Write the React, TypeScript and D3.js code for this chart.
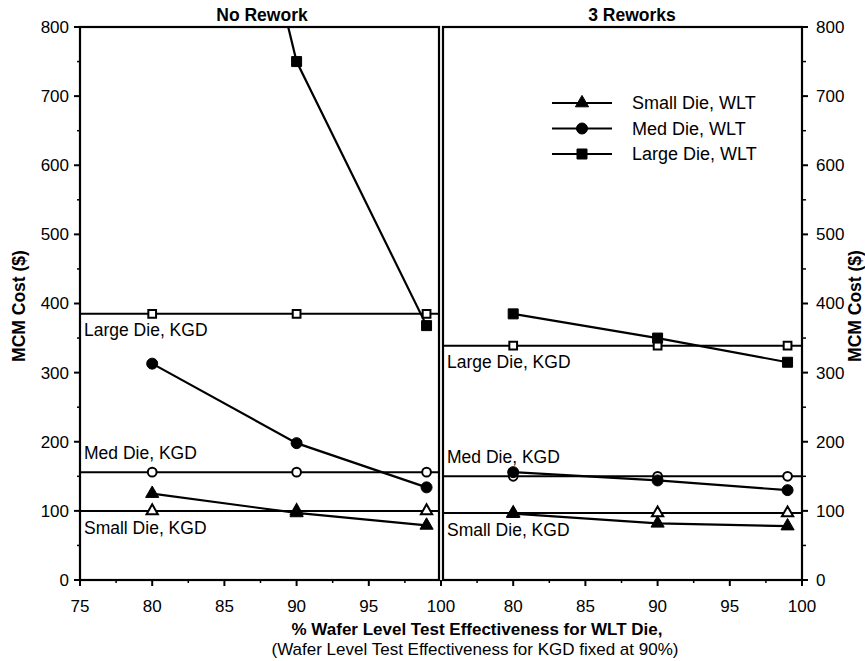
import React from "react";
import * as d3 from "d3";

const W = 865;
const H = 661;

const xWLT = [80, 90, 99];
const xTicksL = [75, 80, 85, 90, 95, 100];
const xTicksR = [80, 85, 90, 95, 100];
const yTicks = [0, 100, 200, 300, 400, 500, 600, 700, 800];

// No Rework panel
const nrSmallWLT = [125, 97, 79];
const nrMedWLT = [313, 198, 134];
const nrLargeWLT = [1610, 750, 368];
const nrSmallKGD = 100;
const nrMedKGD = 156;
const nrLargeKGD = 385;

// 3 Reworks panel
const rwSmallWLT = [96, 82, 78];
const rwMedWLT = [156, 144, 130];
const rwLargeWLT = [385, 350, 315];
const rwSmallKGD = 97;
const rwMedKGD = 150;
const rwLargeKGD = 339;

const legendItems = ["Small Die, WLT", "Med Die, WLT", "Large Die, WLT"];
const symbolTypes = [d3.symbolTriangle, d3.symbolCircle, d3.symbolSquare];

const FONT = "'Liberation Sans', Arial, Helvetica, sans-serif";
const FS = 17.5;
const TFS = 17;

const top = 27;
const bottom = 580;
const y = d3.scaleLinear().domain([0, 800]).range([bottom, top]);
const xL = d3.scaleLinear().domain([75, 100]).range([80, 441]);
const xR = d3.scaleLinear().domain([75, 100]).range([441, 802]);

const filledSize = [75, 95, 100];
const openSize = [55, 60, 60];

function Marker({ x, yv, t, open }: { x: number; yv: number; t: number; open?: boolean }) {
  const p = d3.symbol().type(symbolTypes[t]).size(open ? openSize[t] : filledSize[t])();
  return (
    <path
      d={p || ""}
      transform={`translate(${x},${yv})`}
      fill={open ? "#fff" : "#000"}
      stroke="#000"
      strokeWidth={open ? 2 : 1}
    />
  );
}

function Panel({
  xs,
  left,
  right,
  clipId,
  wlt,
  kgd,
  labelX,
}: {
  xs: d3.ScaleLinear<number, number>;
  left: number;
  right: number;
  clipId: string;
  wlt: number[][];
  kgd: number[];
  labelX: number;
}) {
  const line = d3
    .line<number>()
    .x((_, i) => xs(xWLT[i]))
    .y((d) => y(d));
  const labelOffsets = [23, -13, 22];
  const kgdNames = ["Small Die, KGD", "Med Die, KGD", "Large Die, KGD"];
  return (
    <g>
      <clipPath id={clipId}>
        <rect x={left} y={top} width={right - left} height={bottom - top} />
      </clipPath>
      <g clipPath={`url(#${clipId})`}>
        {kgd.map((v, k) => (
          <g key={"k" + k}>
            <line x1={left} x2={right} y1={y(v)} y2={y(v)} stroke="#000" strokeWidth={2} />
            {xWLT.map((xv, i) => (
              <Marker key={i} x={xs(xv)} yv={y(v)} t={k} open />
            ))}
          </g>
        ))}
        {wlt.map((vals, k) => (
          <g key={"w" + k}>
            <path d={line(vals) || ""} fill="none" stroke="#000" strokeWidth={2.2} />
            {vals.map((v, i) => (
              <Marker key={i} x={xs(xWLT[i])} yv={y(v)} t={k} />
            ))}
          </g>
        ))}
      </g>
      {kgd.map((v, k) => (
        <text key={"t" + k} x={labelX} y={y(v) + labelOffsets[k]} fontSize={FS}>
          {kgdNames[k]}
        </text>
      ))}
      <rect
        x={left}
        y={top}
        width={right - left}
        height={bottom - top}
        fill="none"
        stroke="#000"
        strokeWidth={2.2}
      />
    </g>
  );
}

export default function App() {
  const minorY = d3.range(50, 800, 100);
  const minorX = d3.range(77.5, 100, 5);
  return (
    <svg
      width={W}
      height={H}
      style={{ position: "absolute", left: 0, top: 0, background: "#fff" }}
      fontFamily={FONT}
    >
      <rect width={W} height={H} fill="#fff" />
      <Panel
        xs={xL}
        left={80}
        right={439}
        clipId="clipL"
        wlt={[nrSmallWLT, nrMedWLT, nrLargeWLT]}
        kgd={[nrSmallKGD, nrMedKGD, nrLargeKGD]}
        labelX={84}
      />
      <Panel
        xs={xR}
        left={443}
        right={802}
        clipId="clipR"
        wlt={[rwSmallWLT, rwMedWLT, rwLargeWLT]}
        kgd={[rwSmallKGD, rwMedKGD, rwLargeKGD]}
        labelX={447}
      />
      {/* left y axis */}
      {yTicks.map((t) => (
        <g key={"yl" + t}>
          <line x1={74} x2={80} y1={y(t)} y2={y(t)} stroke="#000" strokeWidth={2} />
          <text x={69} y={y(t)} dy="0.35em" textAnchor="end" fontSize={TFS}>
            {t}
          </text>
        </g>
      ))}
      {minorY.map((t) => (
        <line key={"myl" + t} x1={77} x2={80} y1={y(t)} y2={y(t)} stroke="#000" strokeWidth={1.5} />
      ))}
      {/* right y axis */}
      {yTicks.map((t) => (
        <g key={"yr" + t}>
          <line x1={802} x2={808} y1={y(t)} y2={y(t)} stroke="#000" strokeWidth={2} />
          <text x={816} y={y(t)} dy="0.35em" textAnchor="start" fontSize={TFS}>
            {t}
          </text>
        </g>
      ))}
      {minorY.map((t) => (
        <line key={"myr" + t} x1={802} x2={806} y1={y(t)} y2={y(t)} stroke="#000" strokeWidth={1.5} />
      ))}
      {/* x axes */}
      {xTicksL.map((t) => (
        <g key={"xl" + t}>
          <line x1={xL(t)} x2={xL(t)} y1={bottom} y2={bottom + 6} stroke="#000" strokeWidth={2} />
          <text x={xL(t)} y={bottom + 32} textAnchor="middle" fontSize={TFS}>
            {t}
          </text>
        </g>
      ))}
      {minorX.map((t) => (
        <line key={"mxl" + t} x1={xL(t)} x2={xL(t)} y1={bottom} y2={bottom + 3} stroke="#000" strokeWidth={1.5} />
      ))}
      {xTicksR.map((t) => (
        <g key={"xr" + t}>
          <line x1={xR(t)} x2={xR(t)} y1={bottom} y2={bottom + 6} stroke="#000" strokeWidth={2} />
          <text x={xR(t)} y={bottom + 32} textAnchor="middle" fontSize={TFS}>
            {t}
          </text>
        </g>
      ))}
      {minorX.map((t) => (
        <line key={"mxr" + t} x1={xR(t)} x2={xR(t)} y1={bottom} y2={bottom + 3} stroke="#000" strokeWidth={1.5} />
      ))}
      {/* titles */}
      <text x={262} y={21} textAnchor="middle" fontSize={FS} fontWeight="bold">
        No Rework
      </text>
      <text x={632} y={21} textAnchor="middle" fontSize={FS} fontWeight="bold">
        3 Reworks
      </text>
      {/* axis labels */}
      <text
        transform="translate(25,306) rotate(-90)"
        textAnchor="middle"
        fontSize={FS}
        fontWeight="bold"
      >
        MCM Cost ($)
      </text>
      <text
        transform="translate(861,306) rotate(-90)"
        textAnchor="middle"
        fontSize={FS}
        fontWeight="bold"
      >
        MCM Cost ($)
      </text>
      <text x={477} y={635} textAnchor="middle" fontSize={17} fontWeight="bold">
        % Wafer Level Test Effectiveness for WLT Die,
      </text>
      <text x={475} y={655} textAnchor="middle" fontSize={17}>
        (Wafer Level Test Effectiveness for KGD fixed at 90%)
      </text>
      {/* legend */}
      {legendItems.map((name, i) => {
        const ly = 103 + i * 25.5;
        return (
          <g key={"lg" + i}>
            <line x1={552} x2={612} y1={ly} y2={ly} stroke="#000" strokeWidth={2} />
            <Marker x={582} yv={ly} t={i} />
            <text x={632} y={ly} dy="0.35em" fontSize={FS + 0.5}>
              {name}
            </text>
          </g>
        );
      })}
    </svg>
  );
}
